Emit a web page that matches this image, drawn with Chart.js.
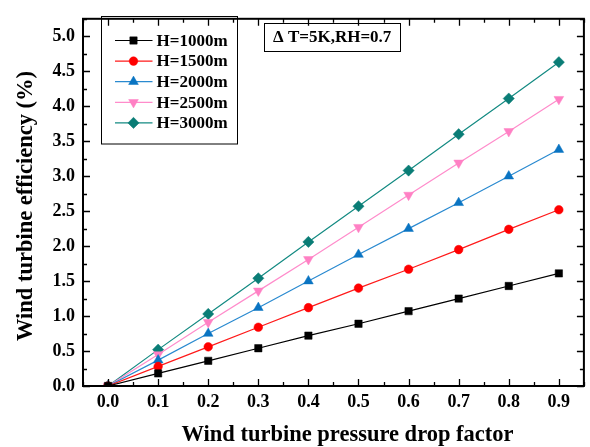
<!DOCTYPE html>
<html>
<head>
<meta charset="utf-8">
<script src="https://cdn.jsdelivr.net/npm/chart.js@4"></script>
<style>
  html, body { margin: 0; padding: 0; background: #fff; }
  #wrap { width: 590px; height: 447px; position: relative; }
</style>
</head>
<body>
<div id="wrap"><canvas id="chart" width="590" height="447"></canvas></div>
<script>
// values
const dropFactor = [0.0, 0.1, 0.2, 0.3, 0.4, 0.5, 0.6, 0.7, 0.8, 0.9];
const eff1000 = [0, 0.18, 0.36, 0.54, 0.72, 0.89, 1.07, 1.25, 1.43, 1.61];
const eff1500 = [0, 0.28, 0.56, 0.84, 1.12, 1.40, 1.67, 1.95, 2.24, 2.52];
const eff2000 = [0, 0.37, 0.75, 1.12, 1.50, 1.88, 2.25, 2.62, 3.00, 3.38];
const eff2500 = [0, 0.45, 0.91, 1.36, 1.81, 2.27, 2.73, 3.19, 3.64, 4.10];
const eff3000 = [0, 0.52, 1.03, 1.54, 2.06, 2.57, 3.08, 3.60, 4.11, 4.63];
const seriesNames = ['H=1000m', 'H=1500m', 'H=2000m', 'H=2500m', 'H=3000m'];
const xTicks = [0.0, 0.1, 0.2, 0.3, 0.4, 0.5, 0.6, 0.7, 0.8, 0.9];
const yTicks = [0.0, 0.5, 1.0, 1.5, 2.0, 2.5, 3.0, 3.5, 4.0, 4.5, 5.0];
const noteText = '\u0394 T=5K,RH=0.7';

const serif = "'Liberation Serif', 'Times New Roman', serif";

const styles = [
  { line: '#000000', fill: '#000000', shape: 'rect', r: 5.2, rot: 0 },
  { line: '#ff1a1a', fill: '#ff0000', shape: 'circle', r: 4.3, rot: 0 },
  { line: '#2a8ad0', fill: '#0a74c2', shape: 'triangle', r: 5.6, rot: 0 },
  { line: '#ff8ccb', fill: '#ff80c4', shape: 'triangle', r: 5.6, rot: 180 },
  { line: '#138a82', fill: '#0a7d76', shape: 'rectRot', r: 5.6, rot: 0 }
];
const allValues = [eff1000, eff1500, eff2000, eff2500, eff3000];

const datasets = allValues.map((vals, i) => ({
  label: seriesNames[i],
  data: vals.map((v, k) => ({ x: dropFactor[k], y: v })),
  borderColor: styles[i].line,
  borderWidth: 1.2,
  backgroundColor: styles[i].fill,
  pointStyle: styles[i].shape,
  pointRotation: styles[i].rot,
  pointRadius: styles[i].r,
  pointBackgroundColor: styles[i].fill,
  pointBorderColor: styles[i].fill,
  pointBorderWidth: 0.5,
  tension: 0
}));

function drawShape(ctx, st, x, y) {
  ctx.save();
  ctx.fillStyle = st.fill;
  ctx.strokeStyle = st.fill;
  ctx.lineWidth = 0.5;
  Chart.helpers.drawPoint(ctx, { pointStyle: st.shape, rotation: st.rot, radius: st.r, borderWidth: 0.5 }, x, y);
  ctx.restore();
}

const decorations = {
  id: 'decorations',
  afterDraw(chart) {
    const ctx = chart.ctx;
    const a = chart.chartArea;
    const xs = chart.scales.x, ys = chart.scales.y;
    ctx.save();
    // ticks, inward on all four sides
    ctx.strokeStyle = '#000';
    ctx.lineWidth = 1.3;
    ctx.beginPath();
    for (let v = -0.05; v <= 0.951; v += 0.05) {
      const px = Math.round(xs.getPixelForValue(v)) + 0.5;
      const major = Math.abs(v * 10 - Math.round(v * 10)) < 0.01;
      const len = major ? 7 : 4;
      ctx.moveTo(px, a.bottom); ctx.lineTo(px, a.bottom - len);
      ctx.moveTo(px, a.top); ctx.lineTo(px, a.top + len);
    }
    for (let v = 0; v <= 5.251; v += 0.25) {
      const py = Math.round(ys.getPixelForValue(v)) + 0.5;
      const major = Math.abs(v * 2 - Math.round(v * 2)) < 0.01;
      const len = major ? 7 : 4;
      ctx.moveTo(a.left, py); ctx.lineTo(a.left + len, py);
      ctx.moveTo(a.right, py); ctx.lineTo(a.right - len, py);
    }
    ctx.stroke();
    // frame
    ctx.lineWidth = 2;
    ctx.strokeRect(a.left, a.top, a.right - a.left, a.bottom - a.top);

    // legend box
    ctx.lineWidth = 1;
    ctx.strokeRect(101.5, 16.5, 136, 127.5);
    ctx.font = 'bold 17px ' + serif;
    ctx.textBaseline = 'middle';
    ctx.textAlign = 'left';
    seriesNames.forEach((name, i) => {
      const y = 40.5 + i * 20.6;
      ctx.strokeStyle = styles[i].line;
      ctx.lineWidth = 1.2;
      ctx.beginPath();
      ctx.moveTo(115, y); ctx.lineTo(152.5, y);
      ctx.stroke();
      drawShape(ctx, styles[i], 133.5, y);
      ctx.fillStyle = '#000';
      ctx.fillText(name, 156.5, y + 1);
    });

    // condition note
    ctx.strokeStyle = '#000';
    ctx.lineWidth = 1;
    ctx.strokeRect(264.5, 23.5, 136, 28);
    ctx.font = 'bold 17px ' + serif;
    ctx.fillStyle = '#000';
    ctx.fillText(noteText, 273, 38);

    // axis titles
    ctx.font = 'bold 22.5px ' + serif;
    ctx.textAlign = 'center';
    ctx.fillText('Wind turbine pressure drop factor', 347.5, 435);
    ctx.translate(26, 206);
    ctx.rotate(-Math.PI / 2);
    ctx.fillText('Wind turbine efficiency (%)', 0, 0);
    ctx.restore();
  }
};

new Chart(document.getElementById('chart'), {
  type: 'line',
  data: { datasets: datasets },
  options: {
    responsive: false,
    animation: false,
    devicePixelRatio: 1,
    layout: { padding: { left: 0, top: 7, right: 3, bottom: 0 } },
    plugins: { legend: { display: false }, tooltip: { enabled: false } },
    scales: {
      x: {
        type: 'linear',
        min: -0.05,
        max: 0.95,
        grid: { display: false, drawTicks: false },
        border: { display: false },
        afterBuildTicks: (s) => { s.ticks = xTicks.map(v => ({ value: v })); },
        afterFit: (s) => { s.height = 61; },
        ticks: {
          color: '#000',
          font: { family: serif, size: 18, weight: 'bold' },
          padding: 6,
          maxRotation: 0,
          callback: (v) => Number(v).toFixed(1)
        }
      },
      y: {
        type: 'linear',
        min: 0,
        max: 5.25,
        grid: { display: false, drawTicks: false },
        border: { display: false },
        afterBuildTicks: (s) => { s.ticks = yTicks.map(v => ({ value: v })); },
        afterFit: (s) => { s.width = 83; },
        ticks: {
          color: '#000',
          font: { family: serif, size: 18, weight: 'bold' },
          padding: 8,
          callback: (v) => Number(v).toFixed(1)
        }
      }
    }
  },
  plugins: [decorations]
});
</script>
</body>
</html>
